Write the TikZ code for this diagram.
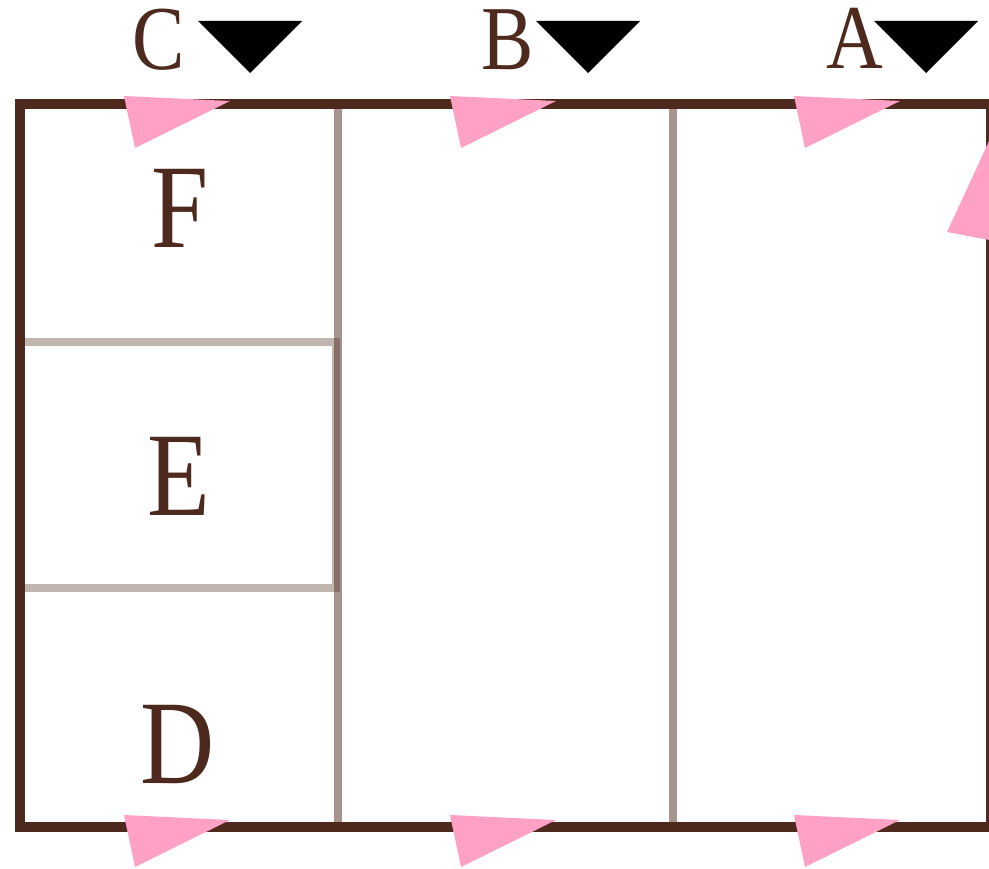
\documentclass[tikz,border=0pt]{standalone}
\usepackage{fontspec}
\setmainfont{Liberation Serif}
\definecolor{wall}{HTML}{4E2A1E}
\definecolor{flag}{HTML}{FFA1C5}
\newcommand{\slim}[1]{\scalebox{0.86}[1]{#1}}
\tikzset{
  roomlabel/.style={text=wall,anchor=base,inner sep=0pt,font=\fontsize{68}{80}\selectfont},
  doorlabel/.style={text=wall,anchor=base,inner sep=0pt,font=\fontsize{52}{60}\selectfont}
}

\begin{document}
\begin{tikzpicture}[x=0.02cm,y=-0.02cm]
  \useasboundingbox (0,0) rectangle (989,868);
  % inner walls
  \draw[wall,opacity=0.5,line width=4.6pt] (338,104)--(338,827) (673,104)--(673,827);
  \draw[wall,opacity=0.35,line width=4.8pt] (20,342)--(336,342)--(336,588)--(20,588);
  % outer wall
  \draw[wall,line width=5.2pt] (20,104) rectangle (991,827);
  % flags
  \foreach \x in {124,450,794} {
    \fill[flag] (\x,96)--(\x+106,101)--(\x+11,148)--cycle;
    \fill[flag] (\x,815)--(\x+106,820)--(\x+11,867)--cycle;
  }
  \fill[flag] (995,128)--(947,232)--(1000,242)--cycle;
  % markers
  \foreach \x in {250,588,926}
    \fill (\x-52,21)--(\x+52,21)--(\x,73)--cycle;
  \node[doorlabel] (c) at (159,70) {\slim{C}};
  \node[doorlabel] (b) at (508,70) {\slim{B}};
  \node[doorlabel] (a) at (855,69) {\slim{A}};
  \node[roomlabel] (f) at (180,247) {\slim{F}};
  \node[roomlabel] (e) at (179,515) {\slim{E}};
  \node[roomlabel] (d) at (178,783) {\slim{D}};
\end{tikzpicture}
\end{document}
